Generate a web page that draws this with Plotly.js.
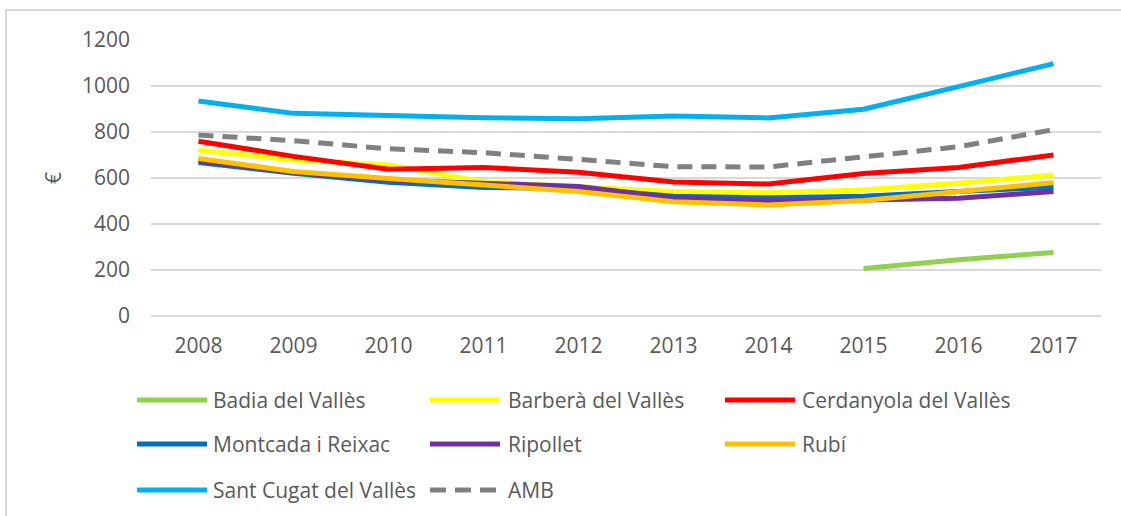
<!DOCTYPE html>
<html>
<head>
<meta charset="utf-8">
<script src="https://cdn.plot.ly/plotly-3.0.1.min.js"></script>
<style>html,body{margin:0;padding:0;background:#fff;}#chart{width:1121px;height:516px;}</style>
</head>
<body>
<div id="chart"></div>
<script>
const years = ["2008","2009","2010","2011","2012","2013","2014","2015","2016","2017"];
const badia      = [null, null, null, null, null, null, null, 207, 245, 276];
const barbera    = [722, 678, 657, 584, 562, 541, 536, 548, 577, 613];
const cerdanyola = [760, 694, 638, 646, 625, 583, 574, 620, 646, 700];
const montcada   = [667, 621, 581, 559, 554, 521, 514, 521, 541, 560];
const ripollet   = [675, 625, 591, 576, 563, 514, 501, 504, 512, 541];
const rubi       = [685, 628, 598, 570, 541, 497, 483, 502, 541, 580];
const santCugat  = [935, 881, 872, 862, 858, 870, 861, 899, 997, 1097];
const amb        = [787, 762, 727, 710, 681, 649, 648, 690, 736, 810];

const seriesNames  = ["Badia del Vallès","Barberà del Vallès","Cerdanyola del Vallès","Montcada i Reixac","Ripollet","Rubí","Sant Cugat del Vallès","AMB"];
const seriesValues = [badia, barbera, cerdanyola, montcada, ripollet, rubi, santCugat, amb];
const seriesColors = ["#92D050","#FFFF00","#FF0000","#0070C0","#7030A0","#FFC000","#00B0F0","#808080"];
const seriesDash   = ["solid","solid","solid","solid","solid","solid","solid","15px,9px"];
const yTicks = [0,200,400,600,800,1000,1200];

const W = 1121, H = 516;
const L = 151, R = 20, T = 40, B = 200;
const pw = W - L - R, ph = H - T - B;
const px2x = p => (p - L) / pw;
const px2y = p => (H - B - p) / ph;

const traces = seriesNames.map((n, i) => ({
  type: "scatter", mode: "lines", name: n,
  x: years, y: seriesValues[i],
  line: {color: seriesColors[i], width: 5, dash: seriesDash[i]},
  connectgaps: false, showlegend: false, hoverinfo: "x+y+name"
}));

const shapes = [{
  type: "rect", xref: "paper", yref: "paper",
  x0: px2x(6), x1: px2x(1130), y0: px2y(10), y1: px2y(530),
  line: {color: "#d9d9d9", width: 2}, fillcolor: "rgba(0,0,0,0)", layer: "below"
}];
const annotations = [];
const colSample = [137, 430, 725];
const colText = [211, 506, 800];
const rowY = [400, 444, 490];
seriesNames.forEach((n, i) => {
  const c = i % 3, r = Math.floor(i / 3);
  shapes.push({
    type: "line", xref: "paper", yref: "paper",
    x0: px2x(colSample[c]), x1: px2x(colSample[c] + 70),
    y0: px2y(rowY[r]), y1: px2y(rowY[r]),
    line: {color: seriesColors[i], width: 5, dash: seriesDash[i] === "solid" ? "solid" : "16px,9px"}
  });
  annotations.push({
    xref: "paper", yref: "paper", x: px2x(colText[c]), y: px2y(rowY[r]),
    xanchor: "left", yanchor: "middle", showarrow: false, text: n,
    font: {family: "Open Sans", size: 21, color: "#595959"}
  });
});

const layout = {
  width: W, height: H,
  margin: {l: L, r: R, t: T, b: B, pad: 0},
  paper_bgcolor: "#ffffff", plot_bgcolor: "#ffffff",
  font: {family: "Open Sans", size: 21, color: "#595959"},
  showlegend: false,
  xaxis: {
    type: "category", categoryorder: "array", categoryarray: years,
    range: [-0.5, 9.5], showgrid: false, zeroline: false, showline: false,
    ticks: "", ticklabelstandoff: 15,
    tickfont: {family: "Open Sans", size: 21, color: "#595959"}, fixedrange: true
  },
  yaxis: {
    range: [0, 1200], tickvals: yTicks, ticktext: yTicks.map(String),
    showgrid: true, gridcolor: "#d9d9d9", gridwidth: 1.5,
    zeroline: true, zerolinecolor: "#d9d9d9", zerolinewidth: 1.5,
    showline: false, ticks: "", ticklabelstandoff: 20,
    tickfont: {family: "Open Sans", size: 21, color: "#595959"},
    title: {text: "€", standoff: 14, font: {family: "Open Sans", size: 21, color: "#595959"}},
    fixedrange: true
  },
  shapes: shapes, annotations: annotations
};

Plotly.newPlot("chart", traces, layout, {displayModeBar: false, staticPlot: true});
</script>
</body>
</html>
